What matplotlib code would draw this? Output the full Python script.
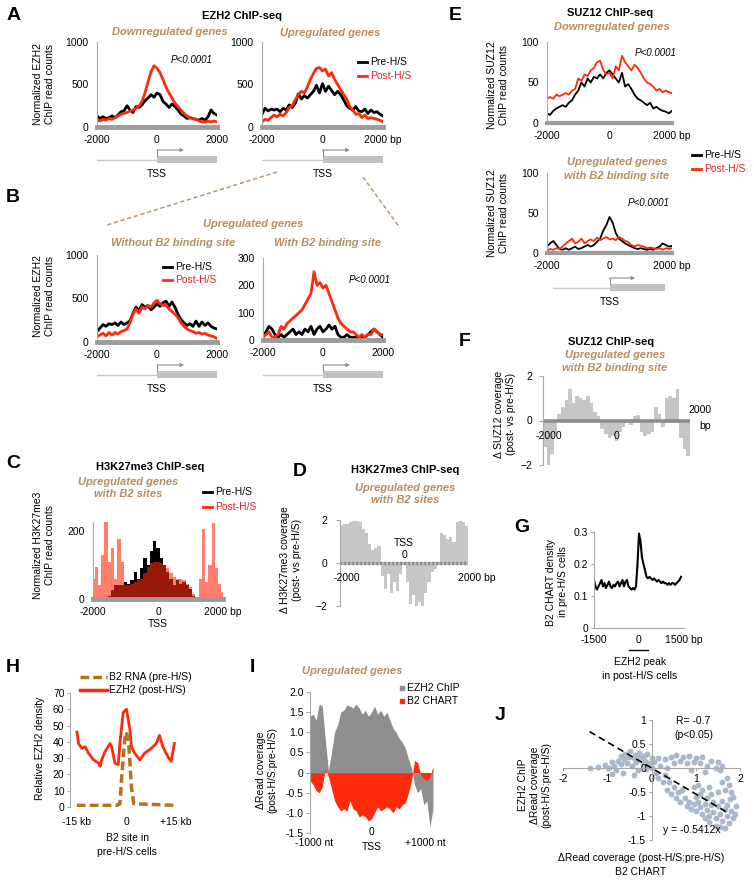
import numpy as np
import matplotlib
matplotlib.use('Agg')
import matplotlib.pyplot as plt
from matplotlib.lines import Line2D
from matplotlib.patches import Rectangle

plt.rcParams['font.family'] = ['Liberation Sans', 'DejaVu Sans']
plt.rcParams['font.size'] = 7.5

# ---------------- data ----------------
pos = np.arange(-2000, 2001, 100)  # bins around TSS (bp)

# A: EZH2 ChIP-seq
a_down_pre = [130, 100, 120, 100, 110, 130, 110, 140, 180, 190, 250, 200, 170, 240, 230, 260, 310, 340, 380, 350,
              400, 380, 300, 270, 230, 270, 240, 200, 150, 130, 100, 110, 100, 90, 80, 100, 80, 120, 200, 160, 140]
a_down_post = [90, 70, 90, 80, 100, 90, 110, 130, 150, 160, 170, 190, 200, 220, 250, 300, 400, 530, 650, 720,
               690, 640, 560, 470, 400, 340, 280, 240, 200, 160, 130, 110, 100, 90, 70, 60, 60, 70, 60, 70, 60]
a_up_pre = [150, 220, 190, 210, 200, 210, 180, 220, 200, 260, 230, 280, 390, 330, 370, 340, 380, 420, 490, 400,
            510, 420, 480, 430, 380, 420, 380, 320, 250, 220, 200, 240, 190, 180, 210, 160, 200, 170, 180, 150, 130]
a_up_post = [60, 90, 80, 110, 140, 120, 150, 130, 170, 230, 250, 320, 380, 420, 400, 470, 560, 630, 690, 700,
             660, 680, 600, 640, 560, 500, 440, 380, 330, 240, 200, 150, 160, 110, 140, 100, 110, 100, 90, 80, 60]

# B: upregulated genes without / with B2 binding site
b_no_pre = [120, 160, 200, 180, 210, 200, 220, 190, 230, 200, 220, 240, 330, 400, 360, 430, 400, 420, 370, 400,
            440, 410, 450, 470, 410, 460, 400, 320, 260, 220, 190, 210, 180, 240, 180, 230, 190, 220, 180, 160, 150]
b_no_post = [60, 80, 100, 70, 110, 80, 110, 90, 120, 130, 150, 220, 320, 380, 330, 400, 380, 420, 400, 450,
             480, 440, 420, 430, 380, 350, 320, 280, 220, 180, 150, 130, 120, 100, 110, 90, 100, 80, 70, 60, 40]
b_b2_pre = [10, 30, 50, 40, 20, 10, 20, 10, 20, 30, 40, 20, 30, 20, 40, 30, 50, 20, 40, 50,
            30, 40, 55, 40, 50, 20, 10, 10, 20, 10, 10, 10, 5, 10, 10, 20, 30, 40, 30, 20, 10]
b_b2_post = [10, 20, 30, 10, 10, 20, 50, 40, 60, 70, 80, 90, 100, 110, 130, 150, 170, 250, 200, 210,
             190, 200, 170, 140, 110, 80, 60, 50, 40, 30, 30, 20, 10, 20, 10, 20, 20, 40, 30, 20, 20]

# C: H3K27me3 ChIP-seq
c_pre = [0, 0, 0, 0, 0, 10, 25, 40, 40, 40, 50, 45, 55, 80, 60, 90, 120, 100, 140, 170,
         150, 120, 100, 80, 60, 40, 55, 45, 50, 40, 30, 10, 0, 0, 0, 0, 0, 0, 0, 0, 0]
c_post = [60, 95, 40, 130, 225, 110, 150, 60, 175, 110, 40, 40, 45, 50, 55, 60, 75, 95, 105, 110,
          108, 105, 100, 90, 75, 65, 60, 60, 55, 45, 35, 15, 5, 60, 205, 50, 100, 222, 90, 45, 20]

# D: delta H3K27me3
d_vals = [1.75, 1.8, 1.8, 1.9, 1.95, 1.95, 1.9, 1.6, 1.4, 0.9, 0.6, 0.7, 0.8, -0.6, -1.2, -0.5, -1.4, -0.9, -1.3, -0.5,
          -0.1, -0.9, -1.9, -1.5, -2.0, -1.8, -2.0, -1.4, -0.9, -0.4, -0.3, -0.1, 1.4, 1.3, 1.1, 1.2, 1.0, 1.9, 1.95, 1.9, 1.7]

# E: SUZ12 ChIP-seq
e_down_pre = [12, 10, 15, 18, 20, 22, 20, 25, 28, 35, 40, 50, 45, 55, 50, 57, 55, 60, 55, 62,
              65, 60, 55, 50, 62, 45, 48, 42, 35, 30, 28, 25, 22, 25, 18, 20, 17, 15, 14, 12, 15]
e_down_post = [30, 32, 30, 35, 33, 35, 37, 35, 40, 42, 55, 52, 60, 58, 65, 68, 75, 77, 65, 60,
               62, 55, 70, 65, 83, 75, 70, 65, 72, 68, 62, 55, 50, 48, 45, 40, 42, 38, 40, 38, 37]
e_up_pre = [8, 12, 15, 10, 5, 4, 6, 4, 6, 8, 5, 6, 8, 10, 8, 10, 14, 18, 28, 35,
            45, 38, 25, 18, 15, 12, 10, 8, 6, 5, 6, 5, 4, 5, 4, 6, 8, 12, 10, 8, 9]
e_up_post = [3, 5, 4, 6, 5, 8, 12, 15, 18, 12, 14, 18, 12, 15, 17, 15, 19, 16, 18, 20,
             17, 18, 16, 20, 18, 15, 14, 10, 8, 10, 9, 8, 6, 7, 6, 5, 6, 4, 6, 5, 6]

# F: delta SUZ12
f_vals = [-1.2, -2.0, -1.5, -0.6, 0.3, 0.6, 0.9, 1.4, 0.8, 1.1, 1.0, 0.9, 1.1, 0.8, 0.4, 0.2, -0.4, -0.6, -0.8, -0.7,
          -0.9, -0.5, -0.3, -0.1, -0.2, 0.2, 0.25, -0.5, -0.7, -0.6, -0.5, 0.6, 0.3, -0.3, 1.0, 1.1, 1.0, 1.4, -0.8, -1.3, -1.6]

# G: B2 CHART density around EZH2 peaks
g_pos = np.arange(-1500, 1401, 50)
g_vals = [0.15, 0.13, 0.12, 0.13, 0.14, 0.15, 0.13, 0.14, 0.125, 0.135,
          0.145, 0.13, 0.125, 0.135, 0.13, 0.14, 0.145, 0.13, 0.14, 0.15,
          0.13, 0.145, 0.15, 0.13, 0.125, 0.12, 0.125, 0.12, 0.13, 0.2,
          0.295, 0.27, 0.22, 0.2, 0.18, 0.16, 0.155, 0.16, 0.155, 0.15,
          0.155, 0.15, 0.145, 0.15, 0.145, 0.14, 0.145, 0.14, 0.14, 0.135,
          0.14, 0.135, 0.14, 0.14, 0.135, 0.14, 0.145, 0.15, 0.16]

# H: around B2 sites (kb)
h_ezh2_x = [-15, -14.5, -13.5, -12.5, -11.5, -10, -8.5, -8, -7.5, -6.5, -5, -4.5, -3.5, -2.5, -2, -1, 0, 1, 1.5,
            2.5, 4, 5.5, 7.5, 9, 10, 11, 12.5, 13.5, 14.5]
h_ezh2_y = [46, 39, 36, 37, 33, 29, 27, 25, 29, 34, 39, 37, 27, 26, 39, 58, 60, 48, 37,
            33, 29, 33, 36, 39, 44, 37, 31, 28, 39]
h_b2_x = [-15, -3, -2, -1.2, -0.5, 0, 0.7, 1.5, 2.2, 15]
h_b2_y = [1, 1, 2, 25, 42, 46, 38, 12, 2, 1]

# I: delta read coverage, upregulated genes
i_pos = np.arange(-1000, 1001, 50)
i_ezh2 = [1.4, 1.45, 1.3, 1.7, 1.65, 0.8, 0.05, 0.5, 1.0, 1.2, 1.5, 1.55, 1.68, 1.65, 1.6, 1.7, 1.6, 1.45, 1.55, 1.4,
          1.5, 1.65, 1.45, 1.55, 1.4, 1.5, 1.3, 1.1, 1.0, 0.85, 0.75, 0.6, 0.35, 0.1, -0.3, -0.5, -0.4, -0.8, -0.7, -1.35, -0.9]
i_b2 = [-0.2, -0.3, -0.45, -0.5, -0.35, 0.1, -0.1, -0.4, -0.7, -0.85, -0.95, -0.9, -0.95, -0.7, -0.9, -0.95, -1.1, -1.05, -1.1, -1.2,
        -1.15, -1.0, -0.85, -0.95, -0.9, -0.85, -0.9, -1.0, -0.85, -0.9, -0.8, -0.75, -0.5, -0.2, 0.3, 0.25, -0.05, -0.15, -0.2, -0.1, 0.15]

# J: B2 CHART vs EZH2 ChIP
j_x = [-1.38, -1.2, -1.05, -0.95, -0.9, -0.85, -0.8, -0.75, -0.7, -0.68, -0.62, -0.6, -0.55, -0.5, -0.48, -0.45, -0.4,
       -0.38, -0.35, -0.3, -0.28, -0.25, -0.2, -0.18, -0.15, -0.12, -0.1, -0.05, 0.0, 0.02, 0.05, 0.1, -0.65, -0.9, -0.4,
       0.15, 0.2, 0.3, 0.35, 0.45, 0.5, 0.55, 0.65, 0.72, 0.8, 0.85, 0.95, 1.0, 1.1, 1.15, 1.25, 1.35, 1.45, 1.5, 1.55,
       1.6, 1.2, 0.9,
       0.15, 0.25, 0.3, 0.35, 0.4, 0.45, 0.5, 0.55, 0.6, 0.65, 0.7, 0.75, 0.8, 1.7, 1.75, 1.8, 1.85, 1.65,
       0.95, 1.05, 1.15, 1.3, 1.5, 1.6, 1.35,
       0.85, 0.9, 0.95, 1.0, 1.05, 1.1, 1.15, 1.2, 1.25, 1.3, 1.35, 1.4, 1.45, 1.5, 1.55, 1.6, 1.65, 1.7, 1.75, 1.8,
       1.85, 1.9, 1.88, 1.3, 1.45, 1.55, 1.65, 1.2, 1.0, 1.1, 1.25, 1.4, 1.6, 1.7, 1.78]
j_y = [0.0, 0.02, 0.06, 0.0, 0.12, 0.05, -0.05, 0.15, 0.08, 0.25, 0.18, 0.3, 0.1, 0.22, 0.35, 0.05, 0.2,
       0.28, 0.12, -0.05, 0.32, 0.2, 0.08, 0.25, 0.15, -0.02, 0.3, 0.1, 0.2, 0.0, 0.12, -0.1, -0.1, -0.12, -0.15,
       0.2, 0.05, 0.18, 0.0, 0.22, 0.1, 0.28, 0.15, 0.22, 0.1, 0.25, 0.12, 0.2, 0.1, 0.22, 0.05, 0.15, 0.0, 0.12, -0.05,
       0.05, -0.08, -0.05,
       -0.2, -0.3, -0.15, -0.45, -0.3, -0.55, -0.4, -0.62, -0.5, -0.7, -0.45, -0.62, -0.8, -0.2, -0.35, -0.5, -0.6, -0.45,
       -0.4, -0.35, -0.45, -0.4, -0.5, -0.3, -0.55,
       -0.7, -0.85, -0.75, -0.9, -0.7, -0.82, -0.95, -0.75, -0.88, -1.0, -0.78, -0.92, -1.05, -0.8, -0.95, -1.1, -0.85, -1.0, -1.15, -0.9,
       -1.05, -0.8, -0.95, -1.12, -1.2, -1.22, -1.25, -1.05, -0.6, -0.55, -0.62, -0.7, -0.68, -0.78, -0.65]
j_slope = -0.5412
j_fit_x = np.array([-1.4, 1.7])

# ---------------- figure ----------------
W, H = 754, 883
fig = plt.figure(figsize=(W / 100, H / 100), dpi=100)

BROWN = '#b58d5f'
RED = '#ff2a0a'
RED_TXT = '#e8202a'
AXGRAY = '#a8a8a8'
BAR = '#9c9c9c'
LGRAY = '#c6c6c6'
LET = dict(fontsize=14, fontweight='bold')
TIT = dict(fontsize=8, fontweight='bold')
SUB = dict(fontsize=8, fontweight='bold', style='italic', color=BROWN)
PV = dict(fontsize=7, style='italic')


def box(l, t, r, b):
    return fig.add_axes([l / W, 1 - b / H, (r - l) / W, (b - t) / H])


def ftext(x, y, s, **kw):
    kw.setdefault('ha', 'center')
    kw.setdefault('va', 'center')
    fig.text(x / W, 1 - y / H, s, **kw)


def fline(xs, ys, **kw):
    fig.add_artist(Line2D([x / W for x in xs], [1 - y / H for y in ys], transform=fig.transFigure, **kw))


def legend_entry(x, y, color, label, tcolor='black', **kw):
    kw.setdefault('lw', 2.0)
    fline([x, x + 9], [y, y], color=color, **kw)
    ftext(x + 12, y, label, ha='left', color=tcolor)


def profile(l, t, r, b, pre, post, ymax, yticks, right_label='2000', lw=2.0, barw=3.5):
    ax = box(l, t, r, b)
    ax.plot(pos, pre, color='black', lw=lw)
    ax.plot(pos, post, color=RED, lw=lw)
    ax.set_xlim(-2000, 2000)
    ax.set_ylim(0, ymax)
    ax.spines[['top', 'right']].set_visible(False)
    ax.spines['left'].set_color(AXGRAY)
    ax.spines['bottom'].set_color(BAR)
    ax.spines['bottom'].set_linewidth(barw)
    ax.set_yticks(yticks)
    ax.set_xticks([-2000, 0, 2000], ['-2000', '0', right_label])
    ax.tick_params(length=0, pad=6)
    return ax


def gene(l, r, yc, x0=-2000, x1=2000, head=900):
    ax = box(l, yc - 12, r, yc + 8)
    ax.set_xlim(-2000, 2000)
    ax.set_ylim(20, 0)
    ax.axis('off')
    ax.plot([x0, 0], [12, 12], color='#c8c8c8', lw=1)
    ax.add_patch(Rectangle((0, 7.5), x1, 7, color='#c2c2c2', lw=0))
    ax.plot([0, 0], [7.5, 2], color='#8c8c8c', lw=0.8)
    ax.annotate('', xy=(head, 2), xytext=(0, 2),
                arrowprops=dict(arrowstyle='-|>', color='#8c8c8c', lw=0.8, mutation_scale=5, shrinkA=0, shrinkB=0))
    ax.text(0, 26, 'TSS', ha='center', va='center', clip_on=False)


# ---- A ----
ftext(14, 15, 'A', **LET)
ftext(242, 16, 'EZH2 ChIP-seq', **TIT)
ftext(170, 32, 'Downregulated genes', **SUB)
ftext(330, 33, 'Upregulated genes', **SUB)
profile(97, 42, 217, 127, a_down_pre, a_down_post, 1000, [0, 500, 1000])
profile(262, 42, 383, 127, a_up_pre, a_up_post, 1000, [0, 500, 1000], right_label='2000 bp')
ftext(192, 60, 'P<0.0001', **PV)
legend_entry(358, 62, 'black', 'Pre-H/S')
legend_entry(358, 76, RED, 'Post-H/S', tcolor=RED_TXT)
ftext(44, 84, 'Normalized EZH2\nChIP read counts', rotation=90)
gene(97, 217, 160)
gene(262, 383, 160)

# ---- B ----
ftext(13, 197, 'B', **LET)
fline([277, 107], [172, 225], color=BROWN, lw=1, ls=(0, (3, 2)))
fline([363, 400], [177, 228], color=BROWN, lw=1, ls=(0, (3, 2)))
ftext(253, 224, 'Upregulated genes', **SUB)
ftext(173, 243, 'Without B2 binding site', **SUB)
ftext(327, 243, 'With B2 binding site', **SUB)
profile(97, 255, 217, 342, b_no_pre, b_no_post, 1000, [0, 500, 1000])
profile(263, 258, 383, 340, b_b2_pre, b_b2_post, 300, [0, 100, 200, 300])
ftext(370, 280, 'P<0.0001', **PV)
legend_entry(163, 267, 'black', 'Pre-H/S')
legend_entry(163, 280, RED, 'Post-H/S', tcolor=RED_TXT)
ftext(44, 296, 'Normalized EZH2\nChIP read counts', rotation=90)
gene(97, 217, 375)
gene(263, 383, 375)

# ---- C ----
ftext(13, 463, 'C', **LET)
ftext(150, 467, 'H3K27me3 ChIP-seq', **TIT)
ftext(128, 482, 'Upregulated genes', **SUB)
ftext(128, 494, 'with B2 sites', **SUB)
legend_entry(203, 492, 'black', 'Pre-H/S')
legend_entry(203, 507, RED, 'Post-H/S', tcolor=RED_TXT)
axC = box(93, 522, 223, 599)
axC.fill_between(pos, 0, c_pre, step='mid', color='black', lw=0)
axC.fill_between(pos, 0, c_post, step='mid', color=RED, alpha=0.6, lw=0)
axC.set_xlim(-2000, 2000)
axC.set_ylim(0, 226)
axC.spines[['top', 'right']].set_visible(False)
axC.spines['left'].set_color(AXGRAY)
axC.spines['bottom'].set_color(BAR)
axC.spines['bottom'].set_linewidth(3.5)
axC.set_yticks([0, 200])
axC.set_xticks([-2000, 0, 2000], ['-2000', '0', '2000 bp'])
axC.tick_params(length=0, pad=6)
axC.set_xlabel('TSS', labelpad=1)
ftext(44, 545, 'Normalized H3K27me3\nChIP read counts', rotation=90)

# ---- D ----
ftext(300, 471, 'D', **LET)
ftext(405, 470, 'H3K27me3 ChIP-seq', **TIT)
ftext(405, 488, 'Upregulated genes', **SUB)
ftext(405, 500, 'with B2 sites', **SUB)
axD = box(340, 520, 468, 606)
axD.bar(pos, d_vals, width=100, color=LGRAY, lw=0)
axD.axhline(0, color='#b4b4b4', lw=2.4)
axD.axhline(0, color='#7c7c7c', lw=2.4, dashes=(0.4, 0.8))
axD.set_xlim(-2050, 2050)
axD.set_ylim(-2, 2)
axD.spines[['top', 'right', 'bottom']].set_visible(False)
axD.spines['left'].set_color(AXGRAY)
axD.set_yticks([-2, 0, 2])
axD.set_xticks([])
axD.tick_params(axis='y', length=3, pad=6, color=AXGRAY)
axD.text(-1840, -0.7, '-2000', ha='center', va='center')
axD.text(0, 0.93, 'TSS', ha='center', va='center')
axD.text(0, 0.37, '0', ha='center', va='center')
axD.text(2340, -0.7, '2000 bp', ha='center', va='center', clip_on=False)
ftext(291, 560, '\u0394 H3K27me3 coverage\n(post- vs pre-H/S)', rotation=90)

# ---- E ----
ftext(455, 15, 'E', **LET)
ftext(610, 13, 'SUZ12 ChIP-seq', **TIT)
ftext(612, 27, 'Downregulated genes', **SUB)
profile(547, 42, 672, 123, e_down_pre, e_down_post, 100, [0, 50, 100], '2000 bp', lw=1.3, barw=3)
ftext(656, 53, 'P<0.0001', **PV)
legend_entry(692, 155, 'black', 'Pre-H/S')
legend_entry(692, 169, RED, 'Post-H/S', tcolor=RED_TXT)
ftext(617, 162, 'Upregulated genes', **SUB)
ftext(617, 176, 'with B2 binding site', **SUB)
profile(547, 173, 672, 253, e_up_pre, e_up_post, 100, [0, 50, 100], '2000 bp', lw=1.3, barw=3)
ftext(649, 203, 'P<0.0001', **PV)
ftext(498, 85, 'Normalized SUZ12\nChIP read counts', rotation=90)
ftext(498, 213, 'Normalized SUZ12\nChIP read counts', rotation=90)
gene(547, 672, 288, x0=-1810, x1=1770, head=820)

# ---- F ----
ftext(465, 342, 'F', **LET)
ftext(611, 342, 'SUZ12 ChIP-seq', **TIT)
ftext(615, 355, 'Upregulated genes', **SUB)
ftext(615, 368, 'with B2 binding site', **SUB)
axF = box(543, 376, 690, 465)
axF.bar(pos, f_vals, width=100, color=LGRAY, lw=0)
axF.axhline(0, color='#8c8c8c', lw=2.6)
axF.set_xlim(-2050, 2050)
axF.set_ylim(-2, 2)
axF.spines[['top', 'right', 'bottom']].set_visible(False)
axF.spines['left'].set_color(AXGRAY)
axF.set_yticks([-2, 0, 2])
axF.set_xticks([])
axF.tick_params(axis='y', length=3, pad=5, color=AXGRAY)
axF.text(-1900, -0.68, '-2000', ha='center', va='center')
axF.text(0, -0.68, '0', ha='center', va='center')
axF.text(2330, 0.45, '2000', ha='center', va='center', clip_on=False)
axF.text(2470, -0.25, 'bp', ha='center', va='center', clip_on=False)
ftext(505, 414, '\u0394 SUZ12 coverage\n(post- vs pre-H/S)', rotation=90)

# ---- G ----
ftext(522, 528, 'G', **LET)
axG = box(594, 532, 684, 628)
axG.plot(g_pos, g_vals, color='black', lw=1.5)
axG.set_xlim(-1500, 1500)
axG.set_ylim(0, 0.3)
axG.spines[['top', 'right']].set_visible(False)
axG.spines[['left', 'bottom']].set_color(AXGRAY)
axG.set_yticks([0, 0.1, 0.2, 0.3], ['0', '0.1', '0.2', '0.3'])
axG.set_xticks([-1500, 0, 1500], ['-1500', '0', '1500 bp'])
axG.tick_params(axis='y', length=2.5, pad=1.5, color=AXGRAY)
axG.tick_params(axis='x', length=0, pad=5)
axG.plot([-350, 300], [-0.068, -0.068], color='black', lw=1, clip_on=False)
ftext(557, 582, 'B2 CHART density\nin pre-H/S cells', rotation=90)
ftext(640, 662, 'EZH2 peak')
ftext(640, 676, 'in post-H/S cells')

# ---- H ----
BROWN2 = '#b8701e'
ftext(13, 667, 'H', **LET)
fline([80, 107], [677, 677], color=BROWN2, lw=2.5, ls=(0, (2.5, 1.2)))
ftext(109, 677, 'B2 RNA (pre-H/S)', ha='left')
fline([80, 107], [690, 690], color=RED, lw=2.5)
ftext(109, 690, 'EZH2 (post-H/S)', ha='left')
axH = box(70, 693, 180, 807)
axH.plot(h_ezh2_x, h_ezh2_y, color=RED, lw=2.0)
axH.plot(h_b2_x, h_b2_y, color=BROWN2, lw=2.5, ls=(0, (2.5, 1.2)))
axH.set_xlim(-17.1, 16.2)
axH.set_ylim(0, 70)
axH.spines[['top', 'right', 'bottom']].set_visible(False)
axH.spines['left'].set_color(AXGRAY)
axH.set_yticks(np.arange(0, 71, 10))
axH.set_xticks([-15, 0, 15], ['-15 kb', '0', '+15 kb'])
axH.tick_params(axis='y', length=2.5, pad=1.5, color=AXGRAY)
axH.tick_params(axis='x', length=0, pad=7)
ftext(127, 838, 'B2 site in')
ftext(127, 852, 'pre-H/S cells')
ftext(40, 748, 'Relative EZH2 density', rotation=90)

# ---- I ----
IGRAY = '#8e8e8e'
ftext(252, 667, 'I', **LET)
ftext(352, 671, 'Upregulated genes', **SUB)
fig.add_artist(Line2D([402 / W], [1 - 688 / H], marker='s', ms=3.5, color=IGRAY, ls='', transform=fig.transFigure))
fig.add_artist(Line2D([402 / W], [1 - 701 / H], marker='s', ms=3.5, color=RED, ls='', transform=fig.transFigure))
ftext(407, 688, 'EZH2 ChIP', ha='left')
ftext(407, 701, 'B2 CHART', ha='left')
axI = box(310, 692, 433, 833)
axI.fill_between(i_pos, 0, i_ezh2, color=IGRAY, lw=0)
axI.fill_between(i_pos, 0, i_b2, color=RED, lw=0)
axI.set_xlim(-1000, 1000)
axI.set_ylim(-1.5, 2.0)
axI.spines[['top', 'right', 'bottom']].set_visible(False)
axI.spines['left'].set_color(AXGRAY)
axI.set_yticks(np.arange(-1.5, 2.01, 0.5), ['-1.5', '-1.0', '-0.5', '0', '0.5', '1.0', '1.5', '2.0'])
axI.set_xticks([])
axI.tick_params(axis='y', length=3, pad=1.5, color=AXGRAY)
axI.text(-940, -1.75, '-1000 nt', ha='center', va='center', clip_on=False)
axI.text(0, -1.47, '0', ha='center', va='center', clip_on=False)
axI.text(0, -1.84, 'TSS', ha='center', va='center', clip_on=False)
axI.text(880, -1.75, '+1000 nt', ha='center', va='center', clip_on=False)
ftext(267, 770, '\u0394Read coverage\n(post-H/S:pre-H/S)', rotation=90)

# ---- J ----
ftext(500, 716, 'J', **LET)
axJ = box(563, 720, 740, 840)
axJ.scatter(j_x, j_y, s=18, color='#a9b8cb', lw=0)
axJ.plot(j_fit_x, j_slope * j_fit_x, color='black', lw=1.2, ls=(0, (4, 2.5)))
axJ.set_xlim(-2, 2)
axJ.set_ylim(-1.5, 1)
axJ.spines[['top', 'right']].set_visible(False)
axJ.spines['left'].set_position(('data', 0))
axJ.spines['bottom'].set_position(('data', 0))
axJ.spines[['left', 'bottom']].set_color(AXGRAY)
axJ.set_xticks([-2, -1, 0, 1, 2], ['-2', '-1', '0', '1', '2'])
axJ.set_yticks([-1.5, -1, -0.5, 0, 0.5, 1], ['-1.5', '-1', '-0.5', '0', '0.5', '1'])
axJ.tick_params(length=2.5, pad=1.5, color=AXGRAY)
axJ.text(0.95, 0.97, 'R= -0.7', ha='center', va='center')
axJ.text(0.95, 0.68, '(p<0.05)', ha='center', va='center')
axJ.text(0.9, -1.3, 'y = -0.5412x', ha='center', va='center')
ftext(535, 785, 'EZH2 ChIP\n\u0394Read coverage\n(post-H/S:pre-H/S)', rotation=90)
ftext(641, 858, '\u0394Read coverage (post-H/S:pre-H/S)')
ftext(641, 872, 'B2 CHART')

fig.savefig('out.png', dpi=100)
